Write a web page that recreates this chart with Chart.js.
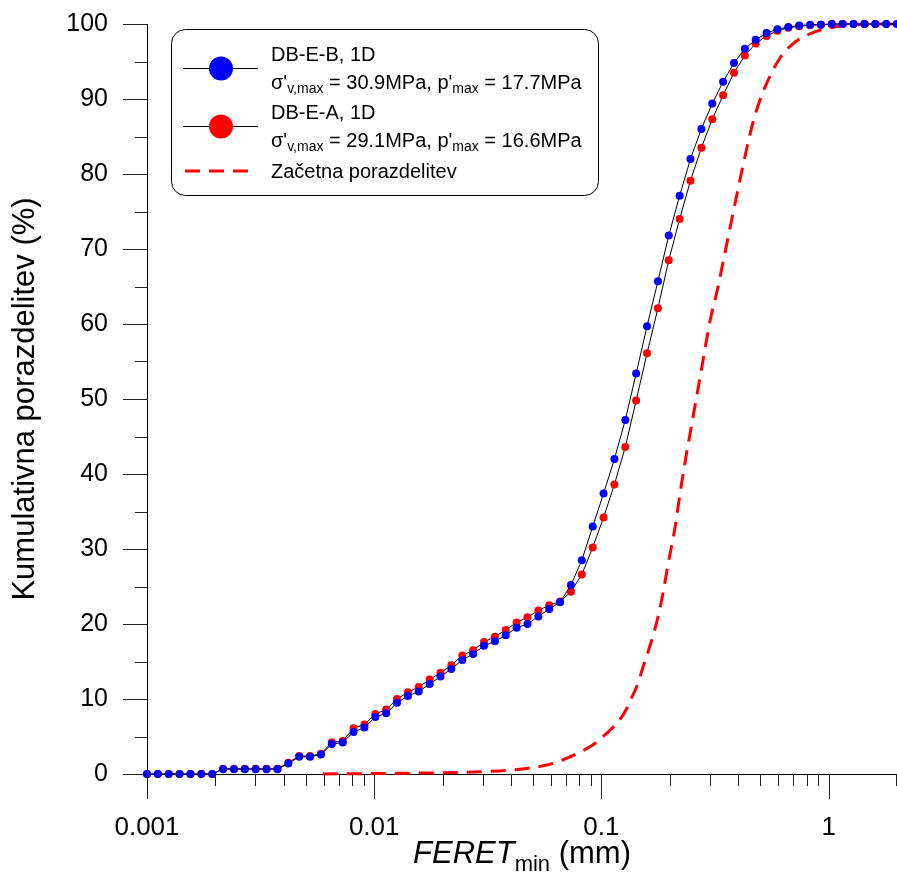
<!DOCTYPE html>
<html lang="sl">
<head>
<meta charset="UTF-8">
<title>Kumulativna porazdelitev FERET min</title>
<script src="https://cdn.jsdelivr.net/npm/chart.js"></script>
<style>
  html, body { margin: 0; padding: 0; background: #fff; }
  #wrap { width: 897px; height: 874px; }
</style>
</head>
<body>
<div id="wrap"><canvas id="graf" width="897" height="874"></canvas></div>
<script>
// FERET_min (mm) - skupne tocke obeh serij
const feret = [
  0.001, 0.001116, 0.001246, 0.001391, 0.001553, 0.001734, 0.001937, 0.002162, 0.002414, 0.002695,
  0.003009, 0.003360, 0.003751, 0.004188, 0.004676, 0.005221, 0.005829, 0.006508, 0.007266, 0.008112,
  0.009057, 0.01011, 0.01129, 0.01260, 0.01407, 0.01571, 0.01754, 0.01958, 0.02186, 0.02441,
  0.02725, 0.03042, 0.03397, 0.03792, 0.04234, 0.04727, 0.05278, 0.05892, 0.06578, 0.07345,
  0.08200, 0.09155, 0.1022, 0.1141, 0.1274, 0.1422, 0.1588, 0.1773, 0.1979, 0.2210,
  0.2466, 0.2754, 0.3075, 0.3433, 0.3833, 0.4279, 0.4777, 0.5334, 0.5955, 0.6648,
  0.7423, 0.8287, 0.9252, 1.033, 1.153, 1.288, 1.438, 1.605, 1.792, 2.0
];
// DB-E-B, 1D (%)
const dbeb = [
  0, 0, 0, 0, 0, 0, 0, 0.65, 0.65, 0.65,
  0.65, 0.65, 0.65, 1.4, 2.3, 2.3, 2.6, 4.0, 4.2, 5.6,
  6.2, 7.6, 8.1, 9.5, 10.4, 11.0, 12.0, 13.0, 14.0, 15.2,
  16.0, 17.1, 17.7, 18.5, 19.5, 20.0, 21.0, 22.0, 22.9, 25.2,
  28.5, 33.0, 37.4, 42.0, 47.2, 53.4, 59.7, 65.7, 71.8, 77.1,
  82.0, 86.0, 89.4, 92.3, 94.8, 96.7, 97.9, 98.8, 99.3, 99.6,
  99.8, 99.9, 99.9, 100, 100, 100, 100, 100, 100, 100
];
// DB-E-A, 1D (%)
const dbea = [
  0, 0, 0, 0, 0, 0, 0, 0.7, 0.7, 0.7,
  0.7, 0.7, 0.7, 1.5, 2.4, 2.4, 2.7, 4.2, 4.4, 6.1,
  6.6, 8.0, 8.6, 10.0, 10.9, 11.6, 12.6, 13.5, 14.5, 15.8,
  16.5, 17.6, 18.3, 19.2, 20.2, 20.9, 21.8, 22.5, 23.0, 24.3,
  26.6, 30.2, 34.2, 38.6, 43.6, 49.8, 56.1, 62.1, 68.5, 74.0,
  79.1, 83.5, 87.3, 90.5, 93.5, 95.8, 97.4, 98.4, 99.1, 99.5,
  99.7, 99.85, 99.9, 100, 100, 100, 100, 100, 100, 100
];
// Zacetna porazdelitev
const zacX = [0.00594, 0.013, 0.0292, 0.0485, 0.0625, 0.0789, 0.0919, 0.1017, 0.1114, 0.1208,
  0.1297, 0.1365, 0.1449, 0.1526, 0.1605, 0.1689, 0.1777, 0.1869, 0.1966, 0.2112,
  0.2221, 0.2362, 0.246, 0.2614, 0.2722, 0.3012, 0.3235, 0.358, 0.3962, 0.4297,
  0.4658, 0.5153, 0.612, 0.7129, 0.8301, 0.9468, 1.125, 1.377, 2.0];
const zacY = [0, 0.1, 0.3, 0.8, 1.5, 2.8, 3.9, 5.0, 6.1, 7.3,
  8.8, 10.3, 12.1, 14.3, 16.3, 18.5, 21, 24.2, 28, 33,
  37.5, 42.5, 45.5, 50, 53, 60.5, 64.5, 71, 77.5, 82.5,
  87, 91, 95.5, 97.6, 98.7, 99.3, 99.7, 99.95, 100];

// osi
const xDecades = [0.001, 0.01, 0.1, 1];
const xMinor = [2, 3, 4, 5, 6, 7, 8, 9];
const yMajor = [0, 10, 20, 30, 40, 50, 60, 70, 80, 90, 100];
const yMinor = [5, 15, 25, 35, 45, 55, 65, 75, 85, 95];

const xTicks = [];
xDecades.forEach(d => {
  xTicks.push(d);
  xMinor.forEach(m => { if (d * m <= 2.0001) xTicks.push(+(d * m).toPrecision(3)); });
});

const FONT = "'Liberation Sans', Arial, sans-serif";
Chart.defaults.font.family = FONT;
Chart.defaults.color = '#000';

function toPts(xs, ys) {
  return xs.map((x, i) => ({ x: x, y: ys[i] }));
}

function noPad(s) {
  s.paddingTop = 0; s.paddingBottom = 0; s.paddingLeft = 0; s.paddingRight = 0;
}

// kljukice na oseh
const tickPlugin = {
  id: 'ticks',
  beforeDatasetsDraw(chart) {
    const ctx = chart.ctx, xs = chart.scales.x, ys = chart.scales.y;
    const a = chart.chartArea;
    ctx.save();
    ctx.strokeStyle = '#222';
    ctx.lineWidth = 1;
    ctx.beginPath();
    xTicks.forEach(v => {
      const px = Math.min(Math.round(xs.getPixelForValue(v)), 896) + 0.5;
      const len = xDecades.includes(v) ? 25 : 12;
      ctx.moveTo(px, a.bottom);
      ctx.lineTo(px, a.bottom + len);
    });
    yMajor.forEach(v => {
      const py = Math.round(ys.getPixelForValue(v)) + 0.5;
      ctx.moveTo(a.left - 24, py);
      ctx.lineTo(a.left, py);
    });
    yMinor.forEach(v => {
      const py = Math.round(ys.getPixelForValue(v)) + 0.5;
      ctx.moveTo(a.left - 12, py);
      ctx.lineTo(a.left, py);
    });
    ctx.stroke();
    ctx.restore();
  }
};

function drawRuns(ctx, x, y, runs) {
  runs.forEach(r => {
    ctx.font = r.font;
    ctx.fillText(r.t, x, y + (r.dy || 0));
    x += ctx.measureText(r.t).width;
  });
}

// legenda in naslov osi x (podpisani indeksi)
const textPlugin = {
  id: 'texts',
  afterDraw(chart) {
    const ctx = chart.ctx, a = chart.chartArea;
    ctx.save();
    // naslov osi x
    const big = '31px ' + FONT, bigIt = 'italic 31px ' + FONT, sub = '22px ' + FONT;
    const runs = [
      { t: 'FERET', font: bigIt },
      { t: 'min', font: sub, dy: 8 },
      { t: ' (mm)', font: big }
    ];
    let w = 0;
    runs.forEach(r => { ctx.font = r.font; w += ctx.measureText(r.t).width; });
    ctx.fillStyle = '#000';
    ctx.textBaseline = 'alphabetic';
    drawRuns(ctx, (a.left + a.right) / 2 - w / 2, 863, runs);

    // okvir legende
    const bx = 171.5, by = 29.5, bw = 427, bh = 166, r = 14;
    ctx.beginPath();
    ctx.moveTo(bx + r, by);
    ctx.arcTo(bx + bw, by, bx + bw, by + bh, r);
    ctx.arcTo(bx + bw, by + bh, bx, by + bh, r);
    ctx.arcTo(bx, by + bh, bx, by, r);
    ctx.arcTo(bx, by, bx + bw, by, r);
    ctx.closePath();
    ctx.fillStyle = '#fff';
    ctx.fill();
    ctx.strokeStyle = '#000';
    ctx.lineWidth = 1;
    ctx.stroke();

    const ds = chart.data.datasets;
    const lf = '20px ' + FONT, sf = '14px ' + FONT;
    [[0, 68.5, 61, 88.5, '30.9', '17.7'], [1, 126.5, 119, 146.5, '29.1', '16.6']].forEach(e => {
      const d = ds[e[0]];
      ctx.strokeStyle = '#000';
      ctx.lineWidth = 1;
      ctx.beginPath();
      ctx.moveTo(183, e[1]);
      ctx.lineTo(258, e[1]);
      ctx.stroke();
      ctx.fillStyle = d.pointBackgroundColor;
      ctx.beginPath();
      ctx.arc(221, e[1], 12, 0, Math.PI * 2);
      ctx.fill();
      ctx.fillStyle = '#000';
      ctx.font = lf;
      ctx.fillText(d.label, 271, e[2]);
      drawRuns(ctx, 271, e[3], [
        { t: "\u03c3'", font: lf },
        { t: 'v,max', font: sf, dy: 4 },
        { t: ' = ' + e[4] + "MPa, p'", font: lf },
        { t: 'max', font: sf, dy: 4 },
        { t: ' = ' + e[5] + 'MPa', font: lf }
      ]);
    });
    ctx.strokeStyle = ds[2].borderColor;
    ctx.lineWidth = 3;
    ctx.setLineDash(ds[2].borderDash);
    ctx.beginPath();
    ctx.moveTo(185, 171);
    ctx.lineTo(248, 171);
    ctx.stroke();
    ctx.setLineDash([]);
    ctx.fillStyle = '#000';
    ctx.font = lf;
    ctx.fillText(ds[2].label, 271, 178);
    ctx.restore();
  }
};

new Chart(document.getElementById('graf'), {
  type: 'line',
  data: {
    datasets: [
      {
        label: 'DB-E-B, 1D',
        data: toPts(feret, dbeb),
        borderColor: '#000',
        borderWidth: 1,
        pointRadius: 4,
        pointBorderWidth: 0,
        pointBackgroundColor: '#0000ff',
        pointBorderColor: '#0000ff',
        clip: false
      },
      {
        label: 'DB-E-A, 1D',
        data: toPts(feret, dbea),
        borderColor: '#000',
        borderWidth: 1,
        pointRadius: 4,
        pointBorderWidth: 0,
        pointBackgroundColor: '#ff0000',
        pointBorderColor: '#ff0000',
        clip: false
      },
      {
        label: 'Začetna porazdelitev',
        data: toPts(zacX, zacY),
        borderColor: '#ff0000',
        borderWidth: 3,
        borderDash: [15, 9],
        pointRadius: 0,
        cubicInterpolationMode: 'monotone',
        clip: false
      }
    ]
  },
  options: {
    responsive: false,
    animation: false,
    events: [],
    layout: { autoPadding: false, padding: { top: 24, right: 0, bottom: 0, left: 0 } },
    plugins: { legend: { display: false }, tooltip: { enabled: false } },
    scales: {
      x: {
        type: 'logarithmic',
        min: 0.001,
        max: 2,
        grid: { display: false, drawTicks: false },
        border: { display: true, color: '#000', width: 1 },
        afterBuildTicks: s => { s.ticks = xTicks.map(v => ({ value: v })); },
        afterFit: s => { s.height = 100; noPad(s); },
        ticks: {
          autoSkip: false,
          maxRotation: 0,
          padding: 38,
          font: { size: 26 },
          color: '#000',
          callback: v => xDecades.includes(v) ? String(v) : ''
        }
      },
      y: {
        min: 0,
        max: 100,
        grid: { display: false, drawTicks: false },
        border: { display: true, color: '#000', width: 1 },
        afterBuildTicks: s => { s.ticks = yMajor.map(v => ({ value: v })); },
        afterFit: s => { s.width = 147; noPad(s); },
        ticks: { padding: 39, font: { size: 25 }, color: '#000' },
        title: {
          display: true,
          text: 'Kumulativna porazdelitev (%)',
          font: { size: 31 },
          color: '#000',
          padding: { top: 7, bottom: 0 }
        }
      }
    }
  },
  plugins: [tickPlugin, textPlugin]
});
</script>
</body>
</html>
